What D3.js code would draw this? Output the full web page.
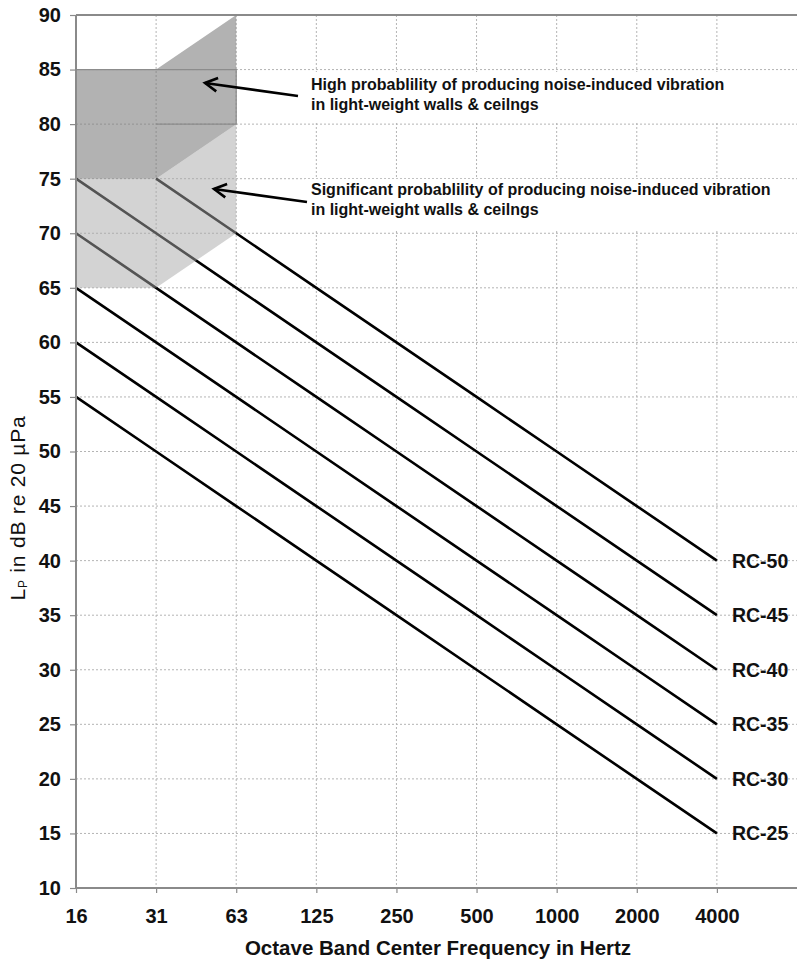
<!DOCTYPE html>
<html><head><meta charset="utf-8">
<script src="https://cdn.jsdelivr.net/npm/d3@7"></script>
<style>
body{margin:0;background:#fff;}
svg{display:block;font-family:"Liberation Sans",Arial,sans-serif;}
</style></head>
<body>
<svg id="chart" width="798" height="964"></svg>
<script>
// ---- data ----
const categories = ["16","31","63","125","250","500","1000","2000","4000"];
const yTicks = [10,15,20,25,30,35,40,45,50,55,60,65,70,75,80,85,90];
const rc25 = [55,50,45,40,35,30,25,20,15];
const rc30 = [60,55,50,45,40,35,30,25,20];
const rc35 = [65,60,55,50,45,40,35,30,25];
const rc40 = [70,65,60,55,50,45,40,35,30];
const rc45 = [75,70,65,60,55,50,45,40,35];
const rc50 = [null,75,70,65,60,55,50,45,40];
const seriesNames = ["RC-25","RC-30","RC-35","RC-40","RC-45","RC-50"];
// shaded regions: [category, dB]
const highRegion = [["16",85],["31",85],["63",90],["63",80],["31",75],["16",75]];
const sigRegion  = [["16",75],["31",75],["63",80],["63",70],["31",65],["16",65]];
const boxRegion  = [["31",80],["63",85]];
const noteHigh = ["High probablility of producing noise-induced vibration","in light-weight walls & ceilngs"];
const noteSig  = ["Significant probablility of producing noise-induced vibration","in light-weight walls & ceilngs"];

const series = [rc25,rc30,rc35,rc40,rc45,rc50];

const svg = d3.select("#chart");
const L = 76, R = 797, T = 15, B = 888;
// 10 slots: 9 categories plus one empty slot at the right edge
const x = d3.scaleLinear().domain([0, categories.length]).range([L, R]);
const xc = c => x(categories.indexOf(c));
const y = d3.scaleLinear().domain([10, 90]).range([B, T]);

// gridlines
const grid = svg.append("g");
grid.selectAll("line.h").data(yTicks.filter(v => v > 10 && v < 90)).join("line")
  .attr("x1", L).attr("x2", R).attr("y1", d => y(d)).attr("y2", d => y(d))
  .attr("stroke", "#b4b4b4").attr("stroke-width", 1).attr("stroke-dasharray", "2,2");
grid.selectAll("line.v").data(d3.range(1, categories.length)).join("line")
  .attr("x1", d => x(d)).attr("x2", d => x(d)).attr("y1", T).attr("y2", B)
  .attr("stroke", "#b4b4b4").attr("stroke-width", 1).attr("stroke-dasharray", "2,2");

// RC lines
const line = d3.line().defined(d => d != null).x((d, i) => x(i)).y(d => y(d));
svg.append("g").selectAll("path").data(series).join("path")
  .attr("d", d => line(d)).attr("fill", "none").attr("stroke", "#000").attr("stroke-width", 2.6);

// shaded regions
const poly = d3.line().x(d => xc(d[0])).y(d => y(d[1]));
svg.append("path").attr("d", poly(sigRegion) + "Z").attr("fill", "rgb(168,168,168)").attr("fill-opacity", 0.5);
svg.append("path").attr("d", poly(highRegion) + "Z").attr("fill", "rgb(120,120,120)").attr("fill-opacity", 0.57);
const bx0 = xc(boxRegion[0][0]), bx1 = xc(boxRegion[1][0]);
const by0 = y(boxRegion[1][1]), by1 = y(boxRegion[0][1]);
svg.append("path").attr("d", `M${xc("16")},${by0}H${bx1}V${by1}H${bx0}`)
  .attr("fill", "none").attr("stroke", "#8c8c8c").attr("stroke-width", 1.2);

// frame: top
svg.append("line").attr("x1", L).attr("x2", R).attr("y1", T).attr("y2", T).attr("stroke", "#8a8a8a").attr("stroke-width", 2);

// axes
const yAxis = d3.axisLeft(y).tickValues(yTicks).tickSize(6).tickPadding(9).tickFormat(d3.format("d"));
const gy = svg.append("g").attr("transform", `translate(${L},0)`).call(yAxis);
const xAxis = d3.axisBottom(x).tickValues(d3.range(0, categories.length)).tickSize(5).tickPadding(16)
  .tickFormat(i => categories[i]);
const gx = svg.append("g").attr("transform", `translate(0,${B})`).call(xAxis);
[gy, gx].forEach(g => {
  g.select(".domain").attr("stroke", "#8a8a8a").attr("stroke-width", 2);
  g.selectAll(".tick line").attr("stroke", "#8a8a8a").attr("stroke-width", 1.2);
  g.selectAll("text").attr("font-size", 20).attr("font-weight", "bold").attr("fill", "#111")
    .attr("font-family", "'Liberation Sans',Arial,sans-serif");
});
gx.select(".domain").attr("d", `M${L},0H${R}`);
gy.select(".domain").attr("d", `M0,${T}V${B}`);

// series labels
svg.append("g").selectAll("text").data(series).join("text")
  .attr("x", x(categories.length - 1) + 15)
  .attr("y", d => y(d[d.length - 1]))
  .attr("dy", "0.36em")
  .attr("font-size", 19.5).attr("font-weight", "bold").attr("fill", "#111")
  .text((d, i) => seriesNames[i]);

// annotations
function note(lines, bx, by, bw, bh, tx, ty, ax1, ay1, ax2, ay2) {
  const g = svg.append("g");
  g.append("rect").attr("x", bx).attr("y", by).attr("width", bw).attr("height", bh).attr("fill", "#fff");
  g.append("text").attr("x", tx).attr("y", ty).attr("font-size", 16).attr("font-weight", "bold").attr("fill", "#111")
    .selectAll("tspan").data(lines).join("tspan").attr("x", tx).attr("dy", (d, i) => i ? 20 : 0).text(d => d);
  g.append("line").attr("x1", ax1).attr("y1", ay1).attr("x2", ax2).attr("y2", ay2)
    .attr("stroke", "#000").attr("stroke-width", 2.6);
  const ang = Math.atan2(ay1 - ay2, ax1 - ax2);
  const len = 14, spread = 0.5;
  const p = a => [ax2 + len * Math.cos(a), ay2 + len * Math.sin(a)];
  const a1 = p(ang - spread), a2 = p(ang + spread);
  g.append("path").attr("d", `M${a1[0]},${a1[1]}L${ax2},${ay2}L${a2[0]},${a2[1]}`)
    .attr("fill", "none").attr("stroke", "#000").attr("stroke-width", 2.6).attr("stroke-linejoin", "miter");
}
note(noteHigh, 305, 72, 485, 51, 311, 90, 298, 96, 205, 83);
note(noteSig, 305, 179, 485, 51, 311, 195, 307, 202, 214, 189);

// axis titles
const yt = svg.append("text").attr("transform", `translate(25,508) rotate(-90)`)
  .attr("text-anchor", "middle").attr("font-size", 21).attr("letter-spacing", 0.8).attr("fill", "#111");
yt.append("tspan").text("L");
yt.append("tspan").attr("font-size", 12).attr("dy", 2).text("P");
yt.append("tspan").attr("dy", -2).text(" in dB re 20 \u00B5Pa");
svg.append("text").attr("x", 438).attr("y", 955)
  .attr("text-anchor", "middle").attr("font-size", 20.5).attr("font-weight", "bold").attr("fill", "#111")
  .text("Octave Band Center Frequency in Hertz");
</script>
</body></html>
